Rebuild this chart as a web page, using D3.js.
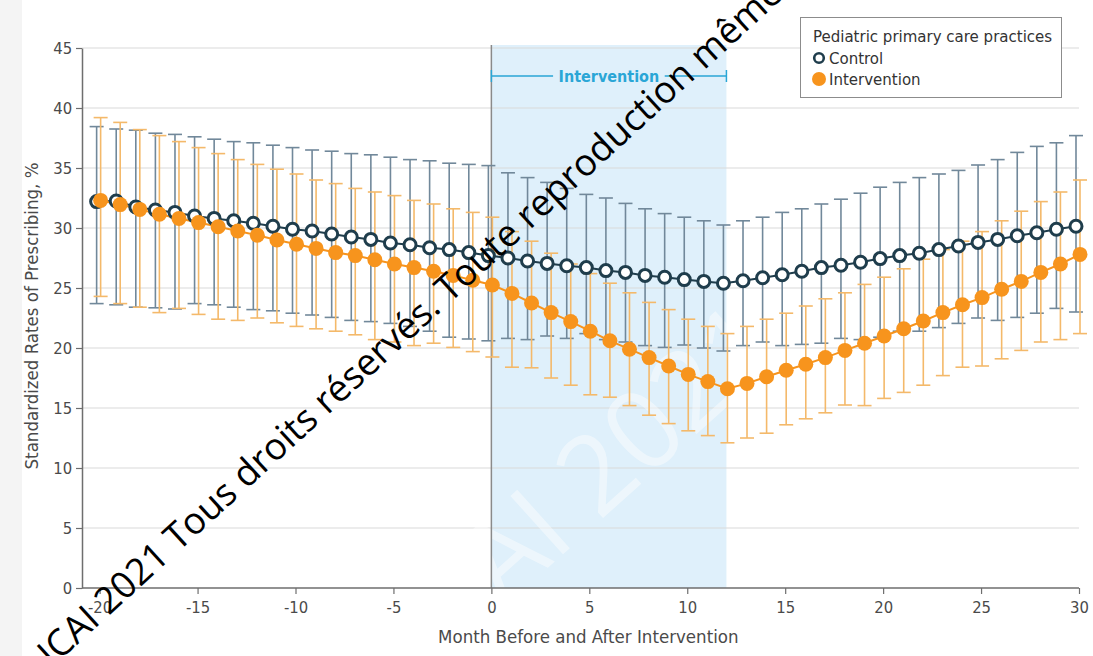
<!DOCTYPE html>
<html>
<head>
<meta charset="utf-8">
<script src="https://cdn.jsdelivr.net/npm/d3@7"></script>
<style>
  body { margin: 0; background: #fff; }
  svg text { font-family: "DejaVu Sans Condensed", "DejaVu Sans", sans-serif; font-stretch: condensed; }
</style>
</head>
<body>
<div id="chart"></div>
<script>
// months relative to intervention start
const months = d3.range(-20, 31)

const controlMean = [32.2, 32.25, 31.75, 31.5, 31.3, 31.0, 30.8, 30.6, 30.4, 30.15,
  29.9, 29.75, 29.5, 29.25, 29.05, 28.75, 28.6, 28.35, 28.2, 27.95,
  27.7, 27.5, 27.25, 27.05, 26.85, 26.7, 26.45, 26.3, 26.05, 25.9,
  25.7, 25.55, 25.4, 25.6, 25.85, 26.1, 26.4, 26.7, 26.9, 27.15,
  27.45, 27.7, 27.9, 28.2, 28.5, 28.8, 29.05, 29.35, 29.6, 29.9, 30.15]
const controlHigh = [38.45, 38.25, 38.15, 37.9, 37.8, 37.6, 37.4, 37.2, 37.1, 36.9,
  36.7, 36.5, 36.4, 36.2, 36.1, 35.9, 35.7, 35.6, 35.4, 35.3,
  35.2, 34.6, 34.2, 33.8, 33.3, 32.8, 32.5, 32.05, 31.6, 31.2,
  30.9, 30.6, 30.25, 30.6, 30.9, 31.3, 31.6, 32.0, 32.4, 32.9,
  33.4, 33.8, 34.2, 34.5, 34.8, 35.25, 35.7, 36.3, 36.8, 37.1, 37.7]
const controlLow = [23.7, 23.6, 23.4, 23.35, 23.25, 23.7, 23.6, 23.4, 23.2, 23.1,
  22.9, 22.75, 22.55, 22.3, 22.2, 22.05, 21.8, 21.4, 20.9, 20.75,
  20.6, 20.8, 20.7, 21.0, 20.8, 21.2, 20.7, 20.5, 20.2, 20.05,
  20.25, 20.0, 19.75, 20.2, 20.5, 20.2, 20.3, 20.4, 20.8, 20.7,
  20.9, 21.4, 21.4, 21.7, 22.05, 22.5, 22.3, 22.55, 22.9, 23.3, 23.0]

const interventionMean = [32.3, 31.95, 31.55, 31.15, 30.8, 30.45, 30.1, 29.75, 29.4, 29.0,
  28.65, 28.3, 27.95, 27.7, 27.35, 27.0, 26.7, 26.4, 26.05, 25.65,
  25.25, 24.55, 23.75, 22.95, 22.2, 21.4, 20.6, 19.9, 19.2, 18.5,
  17.8, 17.2, 16.6, 17.05, 17.6, 18.15, 18.65, 19.2, 19.8, 20.4,
  21.0, 21.6, 22.25, 22.95, 23.6, 24.2, 24.9, 25.55, 26.3, 27.0, 27.8]
const interventionHigh = [39.2, 38.8, 38.2, 37.7, 37.2, 36.7, 36.2, 35.7, 35.3, 34.9,
  34.5, 34.0, 33.7, 33.3, 33.0, 32.7, 32.3, 32.0, 31.6, 31.3,
  30.9, 29.7, 28.9, 27.9, 27.0, 26.2, 25.4, 24.6, 23.8, 23.2,
  22.4, 21.8, 21.2, 21.8, 22.4, 22.9, 23.5, 24.1, 24.6, 25.3,
  25.9, 26.6, 27.4, 28.2, 28.9, 29.7, 30.6, 31.4, 32.2, 33.0, 34.0]
const interventionLow = [24.3, 23.7, 23.4, 22.95, 23.3, 22.8, 22.4, 22.3, 22.5, 22.1,
  21.8, 21.6, 21.4, 21.1, 20.7, 20.5, 20.2, 20.4, 20.05, 19.7,
  19.25, 18.4, 18.35, 17.5, 16.9, 16.1, 15.9, 15.2, 14.4, 13.7,
  13.1, 12.7, 12.1, 12.5, 12.9, 13.6, 14.1, 14.6, 15.25, 15.2,
  15.8, 16.3, 16.9, 17.7, 18.4, 18.5, 19.1, 19.8, 20.5, 20.7, 21.2]

const xTicks = [-20, -15, -10, -5, 0, 5, 10, 15, 20, 25, 30]
const yTicks = [0, 5, 10, 15, 20, 25, 30, 35, 40, 45]
const interventionSpan = [0, 12]

const width = 1093
const height = 656
const margin = { left: 82, right: 14, top: 48, bottom: 68 }

const orange = "#f7941d"
const orangeBar = "#f4b96a"
const dark = "#1f3d4c"
const darkBar = "#71889a"

const svg = d3.select("#chart").append("svg")
  .attr("width", width)
  .attr("height", height)

// faint grey strip on the left edge of the figure
svg.append("rect")
  .attr("x", 0).attr("y", 0)
  .attr("width", 22).attr("height", height)
  .style("fill", "#f4f4f4")

const x = d3.scaleLinear()
  .domain([-20.9, 30])
  .range([margin.left, width - margin.right])
const y = d3.scaleLinear()
  .domain([0, 45])
  .range([height - margin.bottom, margin.top])

const plotBottom = y(0)

// intervention shading
svg.append("rect")
  .attr("x", x(interventionSpan[0]))
  .attr("y", margin.top - 3)
  .attr("width", x(interventionSpan[1]) - x(interventionSpan[0]))
  .attr("height", plotBottom - margin.top + 3)
  .style("fill", "#dff0fb")

// gridlines
svg.append("g").selectAll("line")
  .data(yTicks.filter(d => d > 0))
  .enter().append("line")
  .attr("x1", margin.left)
  .attr("x2", x(30))
  .attr("y1", d => y(d))
  .attr("y2", d => y(d))
  .style("stroke", "#dadada")
  .style("stroke-width", 1.2)

// faint white watermark behind the data
svg.append("text")
  .attr("transform", "translate(429,675) rotate(-42)")
  .style("font-family", "'Open Sans', sans-serif")
  .style("font-stretch", "normal")
  .style("font-size", "110px")
  .style("fill", "#fff")
  .style("opacity", 0.45)
  .text("ICAI 2021")

// month 0 vertical line
svg.append("line")
  .attr("x1", x(0)).attr("x2", x(0))
  .attr("y1", margin.top - 3).attr("y2", plotBottom)
  .style("stroke", "#8a8a8a")
  .style("stroke-width", 1.5)

// axes
const xAxis = svg.append("g")
  .attr("transform", `translate(0,${plotBottom})`)
  .call(d3.axisBottom(x).tickValues(xTicks).tickSize(6).tickSizeOuter(0))
const yAxis = svg.append("g")
  .attr("transform", `translate(${margin.left},0)`)
  .call(d3.axisLeft(y).tickValues(yTicks).tickSize(6).tickSizeOuter(0))

xAxis.select(".domain").attr("d", `M${margin.left},0H${x(30)}`)
;[xAxis, yAxis].forEach(function(a) {
  a.select(".domain").style("stroke", "#6e6e6e").style("stroke-width", 1.5)
  a.selectAll(".tick line").style("stroke", "#6e6e6e").style("stroke-width", 1.2)
  a.selectAll(".tick text").style("font-size", "16.5px").style("fill", "#4a4a4a")
})
xAxis.selectAll(".tick text").attr("dy", "0.95em")
xAxis.selectAll(".tick text").text(d => d < 0 ? "-" + Math.abs(d) : d)
yAxis.selectAll(".tick text").attr("dx", "-0.05em")

svg.append("text")
  .attr("x", x(5) - 1)
  .attr("y", 643)
  .attr("text-anchor", "middle")
  .style("font-size", "18.5px")
  .style("fill", "#4a4a4a")
  .text("Month Before and After Intervention")

svg.append("text")
  .attr("transform", `translate(38,${(y(0) + y(45)) / 2 - 2}) rotate(-90)`)
  .attr("text-anchor", "middle")
  .style("font-size", "18.5px")
  .style("fill", "#4a4a4a")
  .text("Standardized Rates of Prescribing, %")

// intervention bracket
const bracketY = 76
const labelGap = [x(3.15), x(8.85)]
const bracket = svg.append("g").style("stroke", "#2aa6d6").style("stroke-width", 1.5)
bracket.append("line").attr("x1", x(0)).attr("x2", labelGap[0]).attr("y1", bracketY).attr("y2", bracketY)
bracket.append("line").attr("x1", labelGap[1]).attr("x2", x(12)).attr("y1", bracketY).attr("y2", bracketY)
bracket.selectAll(".end")
  .data(interventionSpan)
  .enter().append("line")
  .attr("x1", d => x(d)).attr("x2", d => x(d))
  .attr("y1", bracketY - 6).attr("y2", bracketY + 6)
svg.append("text")
  .attr("x", x(6))
  .attr("y", bracketY + 6)
  .attr("text-anchor", "middle")
  .style("font-size", "16px")
  .style("font-weight", "bold")
  .style("fill", "#2aa6d6")
  .text("Intervention")

// series
const control = months.map((m, i) => ({ m: m, v: controlMean[i], lo: controlLow[i], hi: controlHigh[i] }))
const intervention = months.map((m, i) => ({ m: m, v: interventionMean[i], lo: interventionLow[i], hi: interventionHigh[i] }))

function errorBars(data, dx, color) {
  const g = svg.append("g").style("stroke", color).style("stroke-width", 1.6)
  g.selectAll(".stem")
    .data(data).enter().append("line")
    .attr("x1", d => x(d.m) + dx).attr("x2", d => x(d.m) + dx)
    .attr("y1", d => y(d.lo)).attr("y2", d => y(d.hi))
  g.selectAll(".capHi")
    .data(data).enter().append("line")
    .attr("x1", d => x(d.m) + dx - 7).attr("x2", d => x(d.m) + dx + 7)
    .attr("y1", d => y(d.hi)).attr("y2", d => y(d.hi))
  g.selectAll(".capLo")
    .data(data).enter().append("line")
    .attr("x1", d => x(d.m) + dx - 7).attr("x2", d => x(d.m) + dx + 7)
    .attr("y1", d => y(d.lo)).attr("y2", d => y(d.lo))
}

errorBars(control, -3, darkBar)
errorBars(intervention, 1, orangeBar)

function seriesLine(data, dx, color) {
  svg.append("path")
    .datum(data)
    .attr("d", d3.line().x(d => x(d.m) + dx).y(d => y(d.v)))
    .style("fill", "none")
    .style("stroke", color)
    .style("stroke-width", 2)
}

seriesLine(control, -3, dark)
seriesLine(intervention, 1, orange)

svg.append("g").selectAll("circle")
  .data(control).enter().append("circle")
  .attr("cx", d => x(d.m) - 3)
  .attr("cy", d => y(d.v))
  .attr("r", 6)
  .style("fill", "#fff")
  .style("stroke", dark)
  .style("stroke-width", 3)

svg.append("g").selectAll("circle")
  .data(intervention).enter().append("circle")
  .attr("cx", d => x(d.m) + 1)
  .attr("cy", d => y(d.v))
  .attr("r", 7.5)
  .style("fill", orange)

// legend
const legend = svg.append("g")
legend.append("rect")
  .attr("x", 800.5).attr("y", 17.5)
  .attr("width", 261).attr("height", 80)
  .style("fill", "#fff")
  .style("stroke", "#8c8c8c")
  .style("stroke-width", 1)
legend.append("text")
  .attr("x", 813).attr("y", 42)
  .style("font-size", "16.7px").style("fill", "#333")
  .text("Pediatric primary care practices")
legend.append("circle")
  .attr("cx", 819).attr("cy", 58).attr("r", 4.8)
  .style("fill", "#fff").style("stroke", dark).style("stroke-width", 2.6)
legend.append("text")
  .attr("x", 829).attr("y", 64)
  .style("font-size", "16.7px").style("fill", "#333")
  .text("Control")
legend.append("circle")
  .attr("cx", 819).attr("cy", 79).attr("r", 7)
  .style("fill", orange)
legend.append("text")
  .attr("x", 829).attr("y", 85)
  .style("font-size", "16.7px").style("fill", "#333")
  .text("Intervention")

// copyright watermark across the figure
svg.append("text")
  .attr("transform", "translate(52,668) rotate(-42.5)")
  .style("font-family", "'Open Sans', sans-serif")
  .style("font-stretch", "normal")
  .style("font-size", "37px")
  .style("fill", "#000")
  .text("ICAI 2021 Tous droits réservés. Toute reproduction même")
</script>
</body>
</html>
